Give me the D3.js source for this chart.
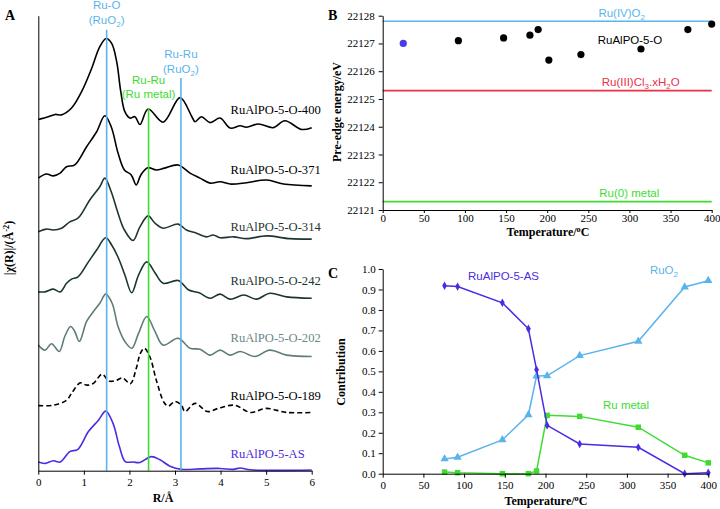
<!DOCTYPE html>
<html><head><meta charset="utf-8">
<script src="https://cdn.jsdelivr.net/npm/d3@7"></script>
<style>body{margin:0;background:#fff}svg{display:block}</style>
</head><body>
<svg id="chart" width="720" height="509"></svg>
<script>
// ---------- Panel A data: |chi(R)| (stacked, arbitrary units) vs R (Å) ----------
const rTicks = [0,1,2,3,4,5,6];
const s400 = [[0,7.72],[0.22,7.78],[0.37,7.83],[0.51,7.82],[0.73,7.97],[0.95,8.33],[1.17,8.84],[1.35,9.32],[1.49,9.50],[1.61,9.39],[1.72,8.99],[1.81,8.33],[1.90,7.89],[2.01,7.75],[2.12,7.78],[2.23,7.61],[2.41,7.95],[2.74,7.66],[3.11,8.20],[3.37,7.78],[3.44,7.67],[3.58,7.78],[3.77,7.65],[3.99,7.75],[4.21,7.53],[4.43,7.58],[4.57,7.55],[4.83,7.62],[5.16,7.54],[5.41,7.69],[5.78,7.50],[6.0,7.54]];
const s371 = [[0,6.43],[0.18,6.52],[0.33,6.48],[0.48,6.54],[0.62,6.68],[0.80,6.72],[1.06,7.12],[1.28,7.45],[1.46,7.80],[1.60,7.56],[1.75,6.98],[1.89,6.61],[2.04,6.50],[2.15,6.28],[2.25,6.50],[2.40,6.66],[2.59,6.61],[2.77,6.65],[3.07,6.72],[3.33,6.54],[3.55,6.43],[3.77,6.32],[3.99,6.35],[4.21,6.30],[4.57,6.33],[5.01,6.39],[5.38,6.30],[6.0,6.26]];
const s314 = [[0,5.25],[0.18,5.31],[0.33,5.29],[0.51,5.33],[0.69,5.47],[0.87,5.55],[1.13,5.95],[1.35,6.24],[1.46,6.43],[1.60,6.13],[1.75,5.66],[1.89,5.29],[2.08,5.06],[2.23,5.36],[2.41,5.60],[2.56,5.44],[2.74,5.33],[3.07,5.42],[3.25,5.29],[3.47,5.22],[3.69,5.14],[3.84,5.18],[3.99,5.12],[4.28,5.14],[4.57,5.10],[5.01,5.16],[5.52,5.10],[6.0,5.09]];
const s242 = [[0,3.93],[0.15,3.93],[0.33,3.99],[0.48,3.93],[0.62,4.12],[0.73,4.21],[0.87,4.26],[1.10,4.59],[1.28,4.85],[1.48,5.12],[1.61,4.96],[1.76,4.67],[1.90,4.30],[2.05,3.91],[2.20,4.30],[2.38,4.59],[2.56,4.35],[2.74,4.12],[3.07,4.18],[3.30,3.97],[3.53,3.91],[3.77,3.79],[3.99,3.88],[4.21,3.77],[4.51,3.86],[4.79,3.77],[5.08,3.90],[5.45,3.82],[6.0,3.79]];
const s202 = [[0,2.76],[0.15,2.65],[0.29,2.79],[0.46,2.62],[0.58,2.95],[0.71,3.17],[0.80,3.06],[0.90,2.84],[1.06,3.28],[1.21,3.50],[1.35,3.68],[1.48,3.88],[1.62,3.68],[1.75,3.17],[1.90,2.84],[2.05,2.69],[2.20,3.02],[2.38,3.39],[2.56,3.06],[2.74,2.76],[3.07,2.91],[3.33,2.69],[3.55,2.67],[3.77,2.54],[3.99,2.65],[4.21,2.54],[4.43,2.62],[4.75,2.51],[5.08,2.65],[5.45,2.54],[6.0,2.51]];
const s189 = [[0,1.43],[0.33,1.44],[0.62,1.55],[0.73,1.70],[0.92,1.93],[1.06,1.88],[1.21,1.92],[1.40,2.12],[1.55,1.97],[1.70,1.98],[1.85,2.04],[2.02,1.91],[2.15,2.25],[2.24,2.58],[2.33,2.69],[2.45,2.50],[2.59,1.99],[2.76,1.50],[2.85,1.42],[3.00,1.52],[3.14,1.44],[3.22,1.30],[3.44,1.48],[3.71,1.30],[3.95,1.37],[4.30,1.44],[4.66,1.28],[5.00,1.37],[5.45,1.28],[6.0,1.28]];
const sAS = [[0,0.19],[0.15,0.16],[0.33,0.22],[0.48,0.19],[0.69,0.42],[0.87,0.47],[1.10,0.86],[1.32,1.11],[1.48,1.31],[1.64,1.04],[1.78,0.53],[1.91,0.20],[2.08,0.19],[2.23,0.18],[2.48,0.31],[2.67,0.24],[2.89,0.10],[3.14,0.03],[3.55,0.04],[3.99,0.05],[4.28,0.03],[4.43,0.06],[4.65,0.02],[6.0,0.015]];
const sampleNames = ["RuAlPO-5-O-400","RuAlPO-5-O-371","RuAlPO-5-O-314","RuAlPO-5-O-242","RuAlPO-5-O-202","RuAlPO-5-O-189","RuAlPO-5-AS"];
const sampleData = [s400,s371,s314,s242,s202,s189,sAS];
const sampleColors = ["#000000","#000000","#1e3534","#1a3533","#5f7c7b","#000000","#4b2be3"];
const refR = [1.5, 2.42, 3.13];
const refTop = [9.69, 7.97, 8.63];

// ---------- Panel B data ----------
const tempB = [25, 92, 147, 179, 189, 202, 241, 314, 371, 400];
const energyB = [22127.0, 22127.1, 22127.2, 22127.3, 22127.5, 22126.4, 22126.6, 22126.8, 22127.5, 22127.7];
const energyTicks = [22121,22122,22123,22124,22125,22126,22127,22128];
const refEnergy = [22127.8, 22125.3, 22121.3];
const tempTicks = [0,50,100,150,200,250,300,350,400];

// ---------- Panel C data ----------
const tempC = [76, 92, 147, 179, 189, 202, 242, 314, 371, 400];
const asC = [0.918, 0.914, 0.835, 0.708, 0.508, 0.236, 0.145, 0.129, 0.0, 0.005];
const ruo2C = [0.072, 0.080, 0.165, 0.288, 0.477, 0.478, 0.577, 0.647, 0.912, 0.943];
const metalC = [0.008, 0.005, 0.0, 0.0, 0.013, 0.285, 0.280, 0.227, 0.090, 0.053];
const contribTicks = [0,0.1,0.2,0.3,0.4,0.5,0.6,0.7,0.8,0.9,1.0];

// ---------- styles ----------
const serif = "'Liberation Serif','Times New Roman',serif";
const sans = "'Liberation Sans',Arial,sans-serif";
const BLUE = "#5ab4ec", GREEN = "#3ddc2f", RED = "#e8304a", PURPLE = "#4b2be3";

const svg = d3.select("#chart");

function rich(sel, parts, size) {
  // parts: [text, mode] mode: 0 normal, 1 sub, 2 sup
  let shift = 0;
  parts.forEach(([t, m]) => {
    const target = m === 1 ? 3 : m === 2 ? -4 : 0;
    const ts = sel.append("tspan").text(t).attr("dy", target - shift);
    if (m) ts.attr("font-size", size * 0.7);
    shift = target;
  });
}
function styleAxis(g) {
  g.selectAll("path,line").attr("stroke", "#000").attr("stroke-width", 1);
  g.selectAll("text").attr("font-family", serif).attr("font-size", 11).attr("fill", "#000");
}
function letter(x, y, t) {
  svg.append("text").attr("x", x).attr("y", y).text(t)
    .attr("font-family", serif).attr("font-weight", "bold").attr("font-size", 14);
}

// ================= Panel A =================
const xA = d3.scaleLinear().domain([0, 6]).range([38.3, 311.7]);
const yA = d3.scaleLinear().domain([0, 10]).range([470.7, 15.7]);
const lineA = d3.line().x(d => xA(d[0])).y(d => yA(d[1])).curve(d3.curveCatmullRom.alpha(0.5));

sampleData.forEach((data, i) => {
  svg.append("path").attr("d", lineA(data)).attr("fill", "none")
    .attr("stroke", sampleColors[i]).attr("stroke-width", 1.6)
    .attr("stroke-dasharray", i === 5 ? "5,3" : null);
});
const refColors = [BLUE, GREEN, BLUE];
refR.forEach((r, i) => {
  svg.append("line").attr("x1", xA(r)).attr("x2", xA(r)).attr("y1", yA(refTop[i])).attr("y2", yA(0))
    .attr("stroke", refColors[i]).attr("stroke-width", 1.6);
});
const labelLevels = [7.85, 6.51, 5.26, 4.09, 2.83, 1.55, 0.28];
sampleNames.forEach((n, i) => {
  svg.append("text").attr("x", 230.5).attr("y", yA(labelLevels[i])).text(n)
    .attr("font-family", serif).attr("font-size", 12.6)
    .attr("fill", i === 4 ? "#6a8786" : sampleColors[i]);
});
// peak annotations
function ann(x, y, parts, color) {
  const t = svg.append("text").attr("x", x).attr("y", y).attr("text-anchor", "middle")
    .attr("font-family", sans).attr("font-size", 11.5).attr("fill", color);
  rich(t, parts, 11.5);
}
ann(xA(1.5), 9, [["Ru-O",0]], BLUE);
ann(xA(1.5), 24, [["(RuO",0],["2",1],[")",0]], BLUE);
ann(xA(3.13), 57.5, [["Ru-Ru",0]], BLUE);
ann(xA(3.13), 72.5, [["(RuO",0],["2",1],[")",0]], BLUE);
ann(xA(2.42), 84, [["Ru-Ru",0]], GREEN);
ann(xA(2.42), 97.5, [["(Ru metal)",0]], GREEN);

const axA = svg.append("g").attr("transform", `translate(0,${yA(0)})`)
  .call(d3.axisBottom(xA).tickValues(rTicks).tickFormat(d3.format("d")).tickSize(4).tickSizeOuter(0).tickPadding(4));
styleAxis(axA);
const ayA = svg.append("g").attr("transform", `translate(${xA(0)},0)`)
  .call(d3.axisLeft(yA).tickValues([]).tickSizeOuter(0));
styleAxis(ayA);
svg.append("text").attr("x", 163).attr("y", 502).attr("text-anchor", "middle")
  .attr("font-family", serif).attr("font-weight", "bold").attr("font-size", 12).text("R/Å");
{
  const t = svg.append("text").attr("transform", "translate(13,248) rotate(-90)").attr("text-anchor", "middle")
    .attr("font-family", serif).attr("font-weight", "bold").attr("font-size", 12);
  rich(t, [["|χ(R)|/(Å",0],["-2",2],[")",0]], 12);
}
letter(5, 20, "A");

// ================= Panel B =================
const xB = d3.scaleLinear().domain([0, 400]).range([382.7, 711.7]);
const yB = d3.scaleLinear().domain([22121, 22128]).range([210, 15.7]);
const refBColors = [BLUE, RED, GREEN];
refEnergy.forEach((e, i) => {
  svg.append("line").attr("x1", xB(0)).attr("x2", xB(400)).attr("y1", yB(e)).attr("y2", yB(e))
    .attr("stroke", refBColors[i]).attr("stroke-width", 1.6);
});
const axB = svg.append("g").attr("transform", `translate(0,${yB(22121)})`)
  .call(d3.axisBottom(xB).tickValues(tempTicks).tickSize(3).tickSizeOuter(0).tickPadding(1));
styleAxis(axB);
const ayB = svg.append("g").attr("transform", `translate(${xB(0)},0)`)
  .call(d3.axisLeft(yB).tickValues(energyTicks).tickFormat(d3.format("d")).tickSize(4).tickSizeOuter(0).tickPadding(4));
styleAxis(ayB);
svg.selectAll(".ptB").data(tempB).enter().append("circle")
  .attr("cx", d => xB(d)).attr("cy", (d, i) => yB(energyB[i])).attr("r", 3.6)
  .attr("fill", (d, i) => i === 0 ? "#4b3bea" : "#000");
function annB(x, y, parts, color) {
  const t = svg.append("text").attr("x", x).attr("y", y).attr("text-anchor", "middle")
    .attr("font-family", sans).attr("font-size", 11.5).attr("fill", color);
  rich(t, parts, 11.5);
}
annB(xB(290.6), 16.5, [["Ru(IV)O",0],["2",1]], BLUE);
annB(xB(300.7), 43.5, [["RuAlPO-5-O",0]], "#000");
annB(xB(313.7), 86, [["Ru(III)Cl",0],["3",1],[".xH",0],["2",1],["O",0]], RED);
annB(xB(299.8), 197, [["Ru(0) metal",0]], GREEN);
{
  const t = svg.append("text").attr("x", 548).attr("y", 236).attr("text-anchor", "middle")
    .attr("font-family", serif).attr("font-weight", "bold").attr("font-size", 12);
  rich(t, [["Temperature/",0],["o",2],["C",0]], 12);
}
svg.append("text").attr("transform", "translate(341,112) rotate(-90)").attr("text-anchor", "middle")
  .attr("font-family", serif).attr("font-weight", "bold").attr("font-size", 12).text("Pre-edge energy/eV");
letter(328, 20, "B");

// ================= Panel C =================
const xC = d3.scaleLinear().domain([0, 400]).range([382.7, 708.3]);
const yC = d3.scaleLinear().domain([0, 1]).range([473.7, 269]);
const seriesC = [
  {vals: ruo2C, color: BLUE, sym: d3.symbolTriangle, size: 30},
  {vals: metalC, color: GREEN, sym: d3.symbolSquare, size: 30},
  {vals: asC, color: PURPLE, sym: d3.symbolDiamond, size: 20}
];
const lineC = d3.line().x(d => xC(d[0])).y(d => yC(d[1]));
seriesC.forEach(s => {
  const pts = tempC.map((t, i) => [t, s.vals[i]]);
  svg.append("path").attr("d", lineC(pts)).attr("fill", "none").attr("stroke", s.color).attr("stroke-width", 1.5);
  svg.append("g").selectAll("path").data(pts).enter().append("path")
    .attr("d", d3.symbol().type(s.sym).size(s.size))
    .attr("transform", d => `translate(${xC(d[0])},${yC(d[1])})`)
    .attr("fill", s.color);
});
const axC = svg.append("g").attr("transform", `translate(0,${yC(0)})`)
  .call(d3.axisBottom(xC).tickValues(tempTicks).tickSize(4).tickSizeOuter(0).tickPadding(4));
styleAxis(axC);
const ayC = svg.append("g").attr("transform", `translate(${xC(0)},0)`)
  .call(d3.axisLeft(yC).tickValues(contribTicks).tickFormat(d3.format(".1f")).tickSize(4).tickSizeOuter(0).tickPadding(3));
styleAxis(ayC);
annB(503.5, 280, [["RuAlPO-5-AS",0]], PURPLE);
annB(664, 274, [["RuO",0],["2",1]], BLUE);
annB(626, 409, [["Ru metal",0]], GREEN);
{
  const t = svg.append("text").attr("x", 546).attr("y", 505).attr("text-anchor", "middle")
    .attr("font-family", serif).attr("font-weight", "bold").attr("font-size", 12);
  rich(t, [["Temperature/",0],["o",2],["C",0]], 12);
}
svg.append("text").attr("transform", "translate(345,372) rotate(-90)").attr("text-anchor", "middle")
  .attr("font-family", serif).attr("font-weight", "bold").attr("font-size", 12).text("Contribution");
letter(328, 278, "C");
</script>
</body></html>
